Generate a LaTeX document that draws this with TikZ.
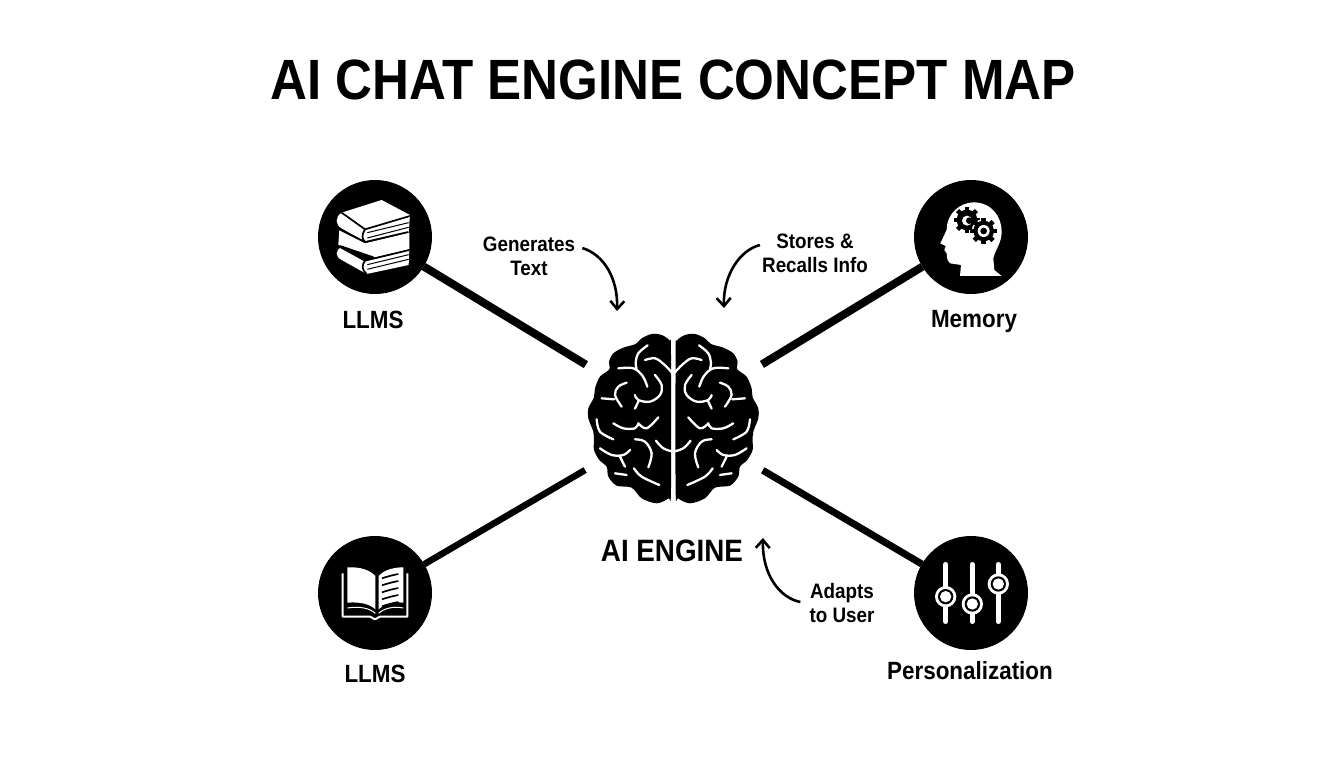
\documentclass[tikz,border=0pt]{standalone}
\usepackage{fontspec}
\setmainfont[FakeStretch=0.9]{Liberation Sans}
\usetikzlibrary{arrows.meta}

\tikzset{
  hub/.style={circle,fill=black,minimum size=114bp,inner sep=0pt,outer sep=0pt},
  hublabel/.style={inner sep=0pt,font=\fontsize{25}{28}\selectfont\bfseries},
  note/.style={inner sep=0pt,align=center,font=\fontsize{21}{24.5}\selectfont\bfseries},
  spoke/.style={line width=#1,black},
  bendy/.style={line width=2.6bp,-{Straight Barb[length=8bp,width=14bp]}},
  groove/.style={draw=white,line width=2.3bp,line cap=round,line join=round},
  zoomed/.style={x=0.3333bp,y=-0.3333bp}
}

\begin{document}
\begin{tikzpicture}
\useasboundingbox (0bp,0bp) rectangle (1344bp,-768bp);

\node (title) at (673bp,-80bp)[inner sep=0pt,font=\fontsize{57}{60}\selectfont\bfseries] {AI CHAT ENGINE CONCEPT MAP};

\node (brain) at (674bp,-418bp)[circle,minimum size=206bp,inner sep=0pt,outer sep=0pt] {};
\node (books) at (375bp,-237bp)[hub] {};
\node (memory) at (971bp,-237bp)[hub] {};
\node (openbook) at (375bp,-593bp)[hub] {};
\node (sliders) at (971bp,-593bp)[hub] {};

\draw [spoke=8bp] (books) -- (brain);
\draw [spoke=8bp] (memory) -- (brain);
\draw [spoke=6.5bp] (openbook) -- (brain);
\draw [spoke=7bp] (sliders) -- (brain);

% brain, one half and its mirror image
\foreach \flip in {1,-1} {
\begin{scope}[shift={(673.3bp,-320bp)},xscale=\flip,zoomed,shift={(-310,0)}]
\fill [black] plot[smooth cycle,tension=0.5] coordinates {(303,95) (299,62) (275,45) (245,42) (215,55) (197,72) (160,83) (130,100) (117,125) (118,148) (90,170) (75,205) (72,232) (55,265) (55,295) (70,335) (72,362) (72,390) (88,420) (110,440) (115,470) (140,497) (185,503) (215,535) (260,550) (295,535) (303,510)};
\draw [groove] plot[smooth,tension=0.6] coordinates {(233,76) (205,100) (197,130) (200,146)};
\draw [groove] plot[smooth,tension=0.6] coordinates {(145,145) (190,145) (218,168) (232,200)};
\draw [groove] plot[smooth,tension=0.6] coordinates {(225,120) (255,115) (282,133) (306,158)};
\draw [groove] plot[smooth,tension=0.6] coordinates {(255,165) (275,195) (270,225) (240,245) (205,240) (195,225)};
\draw [groove] (206,243) -- (195,266);
\draw [groove] plot[smooth,tension=0.6] coordinates {(170,188) (145,200) (135,225) (155,260)};
\draw [groove] (95,235) -- (133,238);
\draw [groove] plot[smooth,tension=0.6] coordinates {(80,298) (90,335) (130,358)};
\draw [groove] plot[smooth,tension=0.6] coordinates {(130,310) (160,325) (195,325) (205,310)};
\draw [groove] plot[smooth,tension=0.6] coordinates {(205,310) (230,325) (265,292)};
\draw [groove] plot[smooth,tension=0.6] coordinates {(195,358) (225,365) (245,400) (235,442)};
\draw [groove] plot[smooth,tension=0.6] coordinates {(258,362) (280,385) (310,395)};
\draw [groove] plot[smooth,tension=0.6] coordinates {(90,385) (125,405) (160,405) (180,390)};
\draw [groove] (150,410) -- (165,440);
\draw [groove] (135,460) -- (170,465);
\draw [groove] plot[smooth,tension=0.6] coordinates {(192,445) (215,470) (268,495)};
\end{scope}
}

% stack of books
\begin{scope}[shift={(310bp,-170bp)},zoomed]
\fill [white] (95,128) -- (215,90) -- (300,135) -- (296,188) -- (170,215) -- (160,212) -- (95,175) .. controls (75,165) and (75,140) .. (95,128) -- cycle;
\fill [white] (88,180) -- (165,220) -- (298,188) -- (298,238) -- (195,262) -- (85,225) -- cycle;
\fill [white] (95,232) -- (165,272) -- (298,240) -- (296,285) -- (170,312) -- (95,270) .. controls (75,260) and (75,240) .. (95,232) -- cycle;
\draw [black,line width=1.7bp] (95,128) -- (165,178) -- (300,138);
\draw [black,line width=1.7bp] (88,178) -- (165,216) -- (295,186);
\draw [black,line width=1.7bp] (90,228) -- (190,262);
\draw [black,line width=1.7bp] (165,178) .. controls (155,195) and (155,205) .. (165,216);
\draw [black,line width=1bp] (172,188) -- (296,158);
\draw [black,line width=1bp] (172,204) -- (296,172);
\draw [black,line width=1.7bp] (92,232) -- (165,272) -- (298,240);
\draw [black,line width=1.7bp] (165,272) .. controls (155,285) and (155,300) .. (170,312);
\draw [black,line width=1bp] (172,284) -- (296,254);
\draw [black,line width=1bp] (172,298) -- (296,268);
\end{scope}

% head with two gears
\begin{scope}[shift={(905bp,-170bp)},zoomed]
\fill [white] (165,318) -- (168,285) -- (135,280) .. controls (125,270) and (125,260) .. (125,250) -- (118,240) -- (122,228) -- (106,220) -- (125,180) .. controls (125,130) and (165,98) .. (205,97) .. controls (260,97) and (290,140) .. (290,185) .. controls (290,220) and (270,240) .. (265,265) -- (268,300) -- (290,318) -- cycle;
\foreach \gx/\gy/\gr in {186/150/31,236/183/31} {
  \fill [white] (\gx,\gy) circle (\gr+5);
  \fill [black] (\gx,\gy) circle (\gr);
  \foreach \tooth in {0,45,...,315}
    \draw [black,line width=4.5bp] (\gx,\gy) ++(\tooth:\gr-4) -- ++(\tooth:13);
}
\fill [white] (236,183) circle (18);
\fill [black] (236,183) circle (10);
\fill [white] (186,152) circle (15);
\fill [black] (193,152) circle (10);
\end{scope}

% open book
\begin{scope}[shift={(310bp,-530bp)},zoomed]
\draw [white,line width=2bp,line join=round] (98,130) -- (98,260) -- (180,260) -- (195,268) -- (210,260) -- (292,260) -- (292,130);
\fill [white] (112,112) .. controls (150,110) and (180,120) .. (196,138) -- (196,238) .. controls (180,222) and (150,215) .. (112,218) -- cycle;
\fill [white] (206,138) .. controls (222,120) and (250,112) .. (280,112) -- (280,218) .. controls (250,215) and (222,222) .. (206,238) -- cycle;
\draw [white,line width=1bp] (112,234) .. controls (150,228) and (180,235) .. (196,250);
\draw [white,line width=1bp] (280,234) .. controls (250,228) and (222,235) .. (206,250);
\foreach \ly in {0,21,42,63,84}
  \draw [black,line width=1.7bp] (216,145+\ly) .. controls (230,140+\ly) and (250,135+\ly) .. (265,132+\ly);
\end{scope}

% three sliders
\begin{scope}[shift={(905bp,-530bp)},zoomed]
\foreach \sx/\sy in {122/200,202/222,280/162} {
  \draw [white,line width=4.7bp,line cap=round] (\sx,103) -- (\sx,275);
  \fill [white] (\sx,\sy) circle (32);
  \fill [black] (\sx,\sy) circle (23);
  \fill [white] (\sx,\sy) circle (17);
}
\end{scope}

\node (booksname) at (373bp,-320bp)[hublabel] {LLMS};
\node (memoryname) at (974bp,-322bp)[hublabel] {Memory};
\node (openname) at (375bp,-674bp)[hublabel] {LLMS};
\node (slidersname) at (970bp,-671bp)[hublabel] {Personalization};
\node (brainname) at (672bp,-551bp)[inner sep=0pt,font=\fontsize{31}{33}\selectfont\bfseries] {AI ENGINE};

\node (gentext) at (529bp,-256bp)[note] {Generates\\Text};
\node (storetext) at (815bp,-253bp)[note] {Stores \&\hspace{10bp}\\Recalls Info};
\node (adapttext) at (842bp,-603bp)[note] {Adapts\hspace{10bp}\\to User};

\coordinate (gentip) at (617bp,-311bp);
\coordinate (storetip) at (724bp,-308bp);
\coordinate (adapttip) at (763bp,-538bp);

\draw [bendy] (gentext.east)+(7bp,8bp) .. controls (605bp,-255bp) and (618bp,-280bp) .. (gentip);
\draw [bendy] (storetext.west)+(-2bp,8bp) .. controls (740bp,-250bp) and (723bp,-275bp) .. (storetip);
\draw [bendy] (adapttext.west)+(-9bp,1bp) .. controls (780bp,-598bp) and (762bp,-575bp) .. (adapttip);
\end{tikzpicture}
\end{document}
